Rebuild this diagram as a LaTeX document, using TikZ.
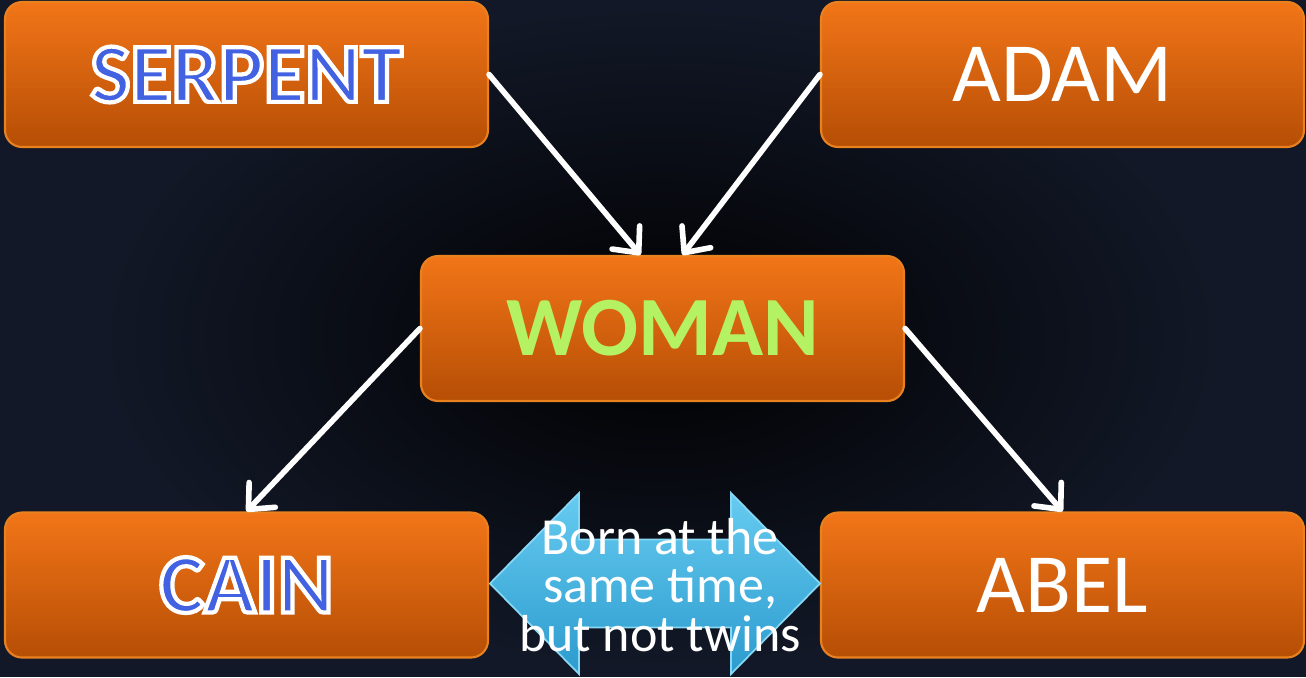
\documentclass[tikz,border=0pt]{standalone}
\usepackage{fontspec}
\setmainfont{Carlito}
\usetikzlibrary{arrows.meta}

\definecolor{bgdark}{HTML}{121827}
\definecolor{boxtop}{HTML}{F27518}
\definecolor{boxbottom}{HTML}{B64E05}
\definecolor{boxedge}{HTML}{E9811E}
\definecolor{womangreen}{HTML}{B4F264}
\definecolor{twintop}{HTML}{66CBF0}
\definecolor{twinbottom}{HTML}{2C9BCE}
\definecolor{twinedge}{HTML}{86D8F5}

% blue letters with a white rim
\newcommand{\strokedword}[1]{\special{pdf:code q 2 Tr 1.2 w 1 1 1 RG 0.259 0.384 0.886 rg}#1\special{pdf:code Q}}

\begin{document}
\begin{tikzpicture}[
		box/.style={draw=boxedge, line width=0.6pt, rounded corners=0.17cm,
			top color=boxtop, bottom color=boxbottom,
			minimum width=4.83cm, minimum height=1.45cm, inner sep=0pt,
			font=\fontsize{24}{28}\selectfont},
		link/.style={draw=white, line width=1.6pt, line cap=round,
			-{Straight Barb[length=0.2cm, width=0.36cm, round]}}
	]
		% sfondo
		\clip (0, 0) rectangle (13.06, 6.77);
		\fill[bgdark] (0, 0) rectangle (13.06, 6.77);
		\shade[inner color=black, outer color=bgdark] (6.6, 3.4) ellipse (5.6cm and 3.3cm);

		% riquadri
		\node[box] (serpent) at (2.465, 6.025) {\bfseries\strokedword{SERPENT}};
		\node[box, text=white] (adam) at (10.625, 6.025) {ADAM};
		\node[box, text=womangreen] (woman) at (6.625, 3.485) {\bfseries WOMAN};
		\node[box] (cain) at (2.465, 0.92) {\bfseries\strokedword{CAIN}};
		\node[box, text=white] (abel) at (10.625, 0.92) {ABEL};

		% frecce
		\draw[link] (serpent.east) -- ([xshift=-0.22cm]woman.north);
		\draw[link] (adam.west) -- ([xshift=0.2cm]woman.north);
		\draw[link] (woman.west) -- (cain.north);
		\draw[link] (woman.east) -- (abel.north);

		% doppia freccia
		\shade[top color=twintop, bottom color=twinbottom, draw=twinedge, line width=0.5pt]
			(4.90, 0.935) -- (5.79, 1.84) -- (5.79, 1.375) -- (7.31, 1.375) -- (7.31, 1.84)
			-- (8.20, 0.935) -- (7.31, 0.03) -- (7.31, 0.495) -- (5.79, 0.495) -- (5.79, 0.03) -- cycle;
		\node[align=center, text=white, font=\fontsize{14.8}{13.9}\selectfont] (twins) at (6.60, 0.92)
			{Born at the\\same time,\\but not twins};
	\end{tikzpicture}
\end{document}
